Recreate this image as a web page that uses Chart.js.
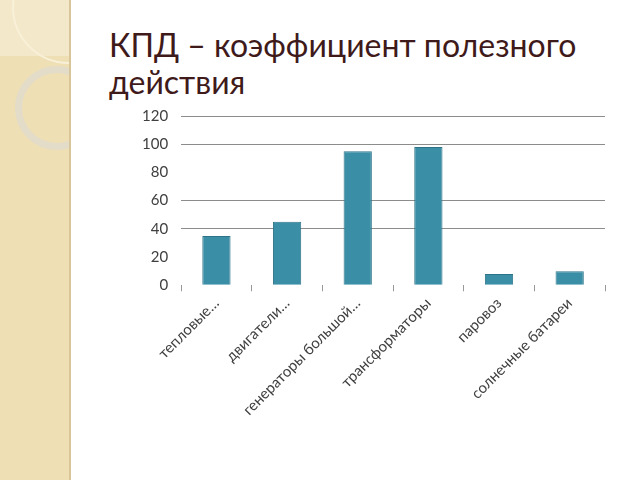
<!DOCTYPE html>
<html>
<head>
<meta charset="utf-8">
<script src="https://cdn.jsdelivr.net/npm/chart.js@4"></script>
<style>
  html, body { margin: 0; padding: 0; background: #fff; }
  body { width: 640px; height: 480px; position: relative; overflow: hidden; }
  #side { position: absolute; left: 0; top: 0; width: 69px; height: 480px; background: #efdfb5; border-right: 2px solid #d8c69a; overflow: hidden; }
  #side .top { position: absolute; left: 0; top: 0; width: 69px; height: 56px; background: #f3e8c9; }
  #side .c1 { position: absolute; left: 12px; top: -50px; width: 110px; height: 110px; border-radius: 50%; border: 2px solid #f8f0d8; }
  #side .c2 { position: absolute; left: 15px; top: 66px; width: 70px; height: 70px; border-radius: 50%; border: 7px solid #e2dcc8; }
  #title { position: absolute; left: 109px; top: 26px; width: 510px; font-family: "Lato", sans-serif; font-weight: 400; font-size: 32px; line-height: 37px; color: #3f1a1a; }
  #wrap { position: absolute; left: 129px; top: 94px; width: 490px; height: 328px; }
</style>
</head>
<body>
<div id="side"><div class="top"></div><div class="c1"></div><div class="c2"></div></div>
<div id="title">КПД – коэффициент полезного действия</div>
<div id="wrap"><canvas id="kpdChart"></canvas></div>
<script>
const categories = ["тепловые…", "двигатели…", "генераторы большой…", "трансформаторы", "паровоз", "солнечные батареи"];
const efficiency = [35, 45, 95, 98, 8, 10];
const yTicks = [0, 20, 40, 60, 80, 100, 120];

const ctx = document.getElementById("kpdChart").getContext("2d");
new Chart(ctx, {
    type: "bar",
    data: {
        labels: categories,
        datasets: [{
            label: "КПД",
            data: efficiency,
            backgroundColor: "#3a8ea6",
            borderColor: "#2e7488",
            borderWidth: 1,
            barPercentage: 0.4,
            categoryPercentage: 1
        }]
    },
    options: {
        responsive: true,
        maintainAspectRatio: false,
        animation: false,
        layout: { padding: { right: 14 } },
        plugins: { legend: { display: false }, tooltip: { enabled: false } },
        scales: {
            x: {
                grid: { offset: true, drawOnChartArea: false, tickLength: 6, color: "#999" },
                border: { display: false },
                ticks: {
                    maxRotation: 45, minRotation: 45, autoSkip: false,
                    color: "#404040",
                    font: { family: "Lato", size: 15 }
                }
            },
            y: {
                min: 0, max: 120,
                afterBuildTicks: function(axis) {
                    axis.ticks = yTicks.map(function(v) { return { value: v }; });
                },
                grid: {
                    drawTicks: false,
                    color: function(c) {
                        const v = c.tick ? c.tick.value : 0;
                        return (v === 0 || v === 20 || v === 80) ? "rgba(0,0,0,0)" : "#8c8c8c";
                    }
                },
                border: { display: false },
                ticks: {
                    padding: 13,
                    color: "#404040",
                    font: { family: "Lato", size: 15 }
                }
            }
        }
    }
});
</script>
</body>
</html>
